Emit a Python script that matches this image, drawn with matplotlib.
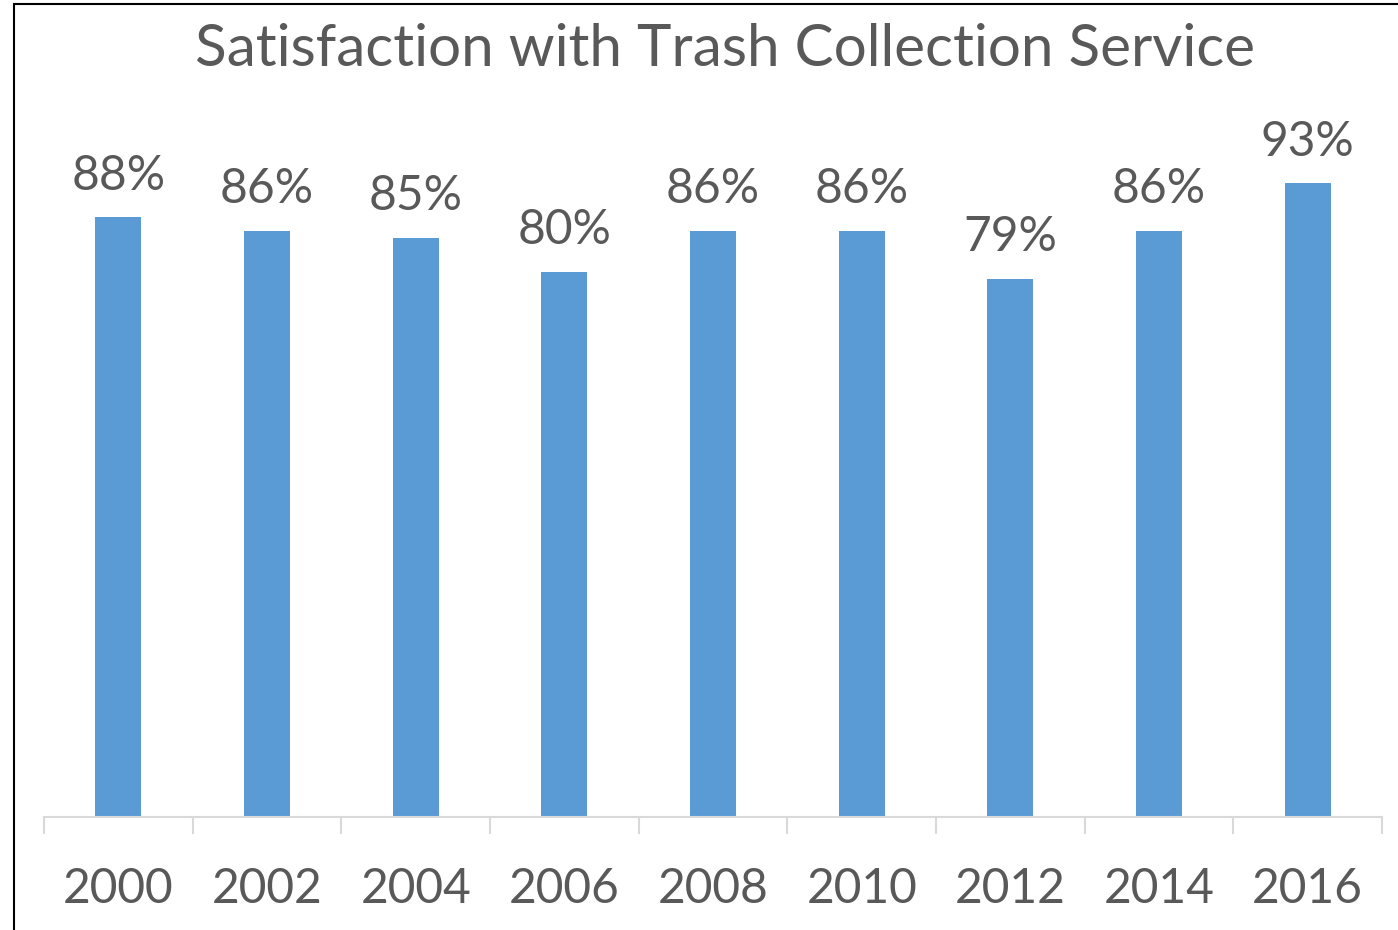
import matplotlib.pyplot as plt
from matplotlib.patches import Rectangle

# data
years = ['2000', '2002', '2004', '2006', '2008', '2010', '2012', '2014', '2016']
satisfaction = [88, 86, 85, 80, 86, 86, 79, 86, 93]

TEXT_COLOR = '#595959'
BAR_COLOR = '#5b9bd5'
AXIS_COLOR = '#d9d9d9'

plt.rcParams['font.family'] = ['Lato', 'DejaVu Sans']

W, H = 1398, 930
fig = plt.figure(figsize=(W / 100, H / 100), dpi=100)
ax = fig.add_axes([44 / W, (H - 817) / H, (1382 - 44) / W, (817 - 135.5) / H])

x = range(len(years))
bars = ax.bar(x, satisfaction, width=0.31, color=BAR_COLOR, zorder=2)

for xi, v in zip(x, satisfaction):
    ax.annotate(f'{v}%', (xi, v), xytext=(0, 14), textcoords='offset points',
                ha='center', va='bottom', fontsize=34.5, color=TEXT_COLOR,
                annotation_clip=False)

ax.set_xlim(-0.5, len(years) - 0.5)
ax.set_ylim(0, 100)
ax.set_yticks([])
for s in ['top', 'right', 'left']:
    ax.spines[s].set_visible(False)
ax.spines['bottom'].set_color(AXIS_COLOR)
ax.spines['bottom'].set_linewidth(1.5)

# category labels and boundary ticks
ax.set_xticks(list(x))
ax.set_xticklabels(years, fontsize=34.5, color=TEXT_COLOR)
ax.tick_params(axis='x', which='major', length=0, pad=36)
ax.set_xticks([i - 0.5 for i in range(len(years) + 1)], minor=True)
ax.tick_params(axis='x', which='minor', length=12, width=1.5, color=AXIS_COLOR)

fig.text(725 / W, (H - 50) / H, 'Satisfaction with Trash Collection Service',
         ha='center', va='center', fontsize=42, color=TEXT_COLOR)

# chart border
fig.patches.append(Rectangle((14 / W, -0.1), 1.2, (H - 4) / H + 0.1,
                             transform=fig.transFigure, fill=False,
                             edgecolor='black', linewidth=1.5))

fig.savefig('out.png', dpi=100)
